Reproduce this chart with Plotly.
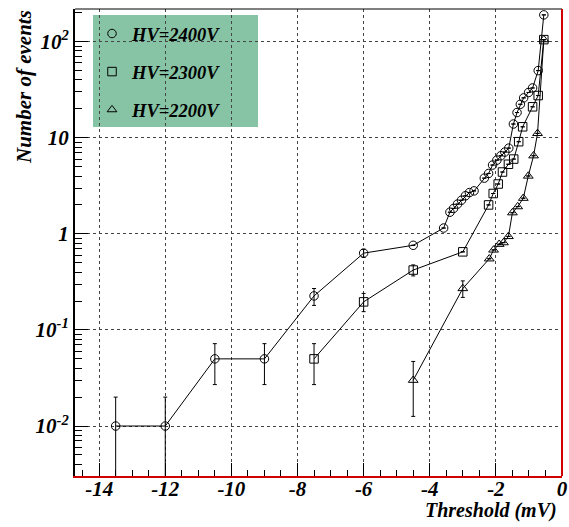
import plotly.graph_objects as go

# ---------------- data ----------------
hv2400_x = [-13.5, -12.0, -10.5, -9.0, -7.5, -6.0, -4.5, -3.58, -3.39, -3.28, -3.16, -3.04, -2.92, -2.80, -2.66,
            -2.35, -2.22, -2.10, -1.97, -1.85, -1.73, -1.61, -1.47, -1.36, -1.26, -1.16, -1.01, -0.89, -0.72, -0.55]
hv2400_y = [0.010, 0.010, 0.050, 0.050, 0.226, 0.63, 0.76, 1.15, 1.68, 1.84, 2.04, 2.24, 2.49, 2.69, 2.80,
            3.8, 4.25, 5.2, 5.85, 6.5, 7.1, 7.8, 13.9, 18.3, 22.3, 26.0, 29.6, 33.0, 50.0, 190.0]
hv2400_eup = [0.010, 0.010, 0.022, 0.022, 0.044, 0.06] + [None] * 24
hv2400_edn = [0.00999, 0.00999, 0.023, 0.023, 0.046, 0.06] + [None] * 24

hv2300_x = [-7.5, -6.0, -4.5, -3.0, -2.22, -2.08, -1.93, -1.80, -1.62, -1.46, -1.31, -1.19, -0.89, -0.72, -0.55]
hv2300_y = [0.050, 0.196, 0.42, 0.65, 2.0, 2.63, 3.3, 4.4, 5.3, 6.0, 9.1, 13.0, 21.0, 27.5, 105.0]
hv2300_eup = [0.022, 0.044, 0.055] + [None] * 12
hv2300_edn = [0.023, 0.041, 0.055] + [None] * 12

hv2200_x = [-4.5, -3.0, -2.2, -2.07, -1.9, -1.77, -1.62, -1.5, -1.34, -1.17, -1.02, -0.86, -0.74, -0.55]
hv2200_y = [0.030, 0.27, 0.55, 0.68, 0.78, 0.81, 0.94, 1.66, 1.92, 2.35, 4.0, 6.5, 11.1, 105.0]
hv2200_eup = [0.017, 0.054] + [None] * 12
hv2200_edn = [0.0174, 0.052] + [None] * 12

series_names = ["HV=2400V", "HV=2300V", "HV=2200V"]
series_symbols = ["circle-open", "square-open", "triangle-up-open"]

x_tick_vals = [-14, -12, -10, -8, -6, -4, -2, 0]
x_tick_text = ["-14", "-12", "-10", "-8", "-6", "-4", "-2", "0"]
y_tick_vals = [0.01, 0.1, 1, 10, 100]
y_tick_text = ["10<sup>-2</sup>", "10<sup>-1</sup>", "1", "10", "10<sup>2</sup>"]

FONT = "Liberation Serif"
fnt = lambda s: dict(family=FONT, size=s, color="black", weight="bold", style="italic")

fig = go.Figure()
data = [
    (hv2400_x, hv2400_y, hv2400_eup, hv2400_edn),
    (hv2300_x, hv2300_y, hv2300_eup, hv2300_edn),
    (hv2200_x, hv2200_y, hv2200_eup, hv2200_edn),
]
for (xs, ys, eu, ed), name, sym in zip(data, series_names, series_symbols):
    fig.add_trace(go.Scatter(
        x=xs, y=ys, mode="lines+markers", showlegend=False, name=name,
        line=dict(color="black", width=1),
        marker=dict(symbol=sym, size=8.5, color="black", line=dict(width=1, color="black")),
        error_y=dict(type="data", array=eu, arrayminus=ed, symmetric=False,
                     color="black", thickness=1, width=2),
    ))
# legend entries (markers only)
for i, (name, sym) in enumerate(zip(series_names, series_symbols)):
    fig.add_trace(go.Scatter(
        x=[None], y=[None], mode="markers", name=name, legendgroup=f"g{i}",
        marker=dict(symbol=sym, size=8.5, color="black", line=dict(width=1, color="black")),
    ))

L, R, T, B = 75, 7, 9, 51
W, H = 569, 527
pw, ph = W - L - R, H - T - B
px = lambda x: (x - L) / pw
py = lambda y: 1 - (y - T) / ph

minor_y = [m * 10 ** e for e in range(-3, 3) for m in range(2, 10)]

fig.update_layout(
    width=W, height=H,
    margin=dict(l=L, r=R, t=T, b=B, pad=0, autoexpand=False),
    paper_bgcolor="white", plot_bgcolor="white",
    font=fnt(18),
    legend=dict(x=px(92), y=py(15), xanchor="left", yanchor="top",
                bgcolor="rgba(0,0,0,0)", borderwidth=0, font=fnt(18.5),
                tracegroupgap=11, itemsizing="trace"),
    xaxis=dict(range=[-14.73, 0], tickvals=x_tick_vals, ticktext=x_tick_text,
               ticks="inside", ticklen=13, tickwidth=1, tickcolor="black",
               minor=dict(dtick=0.5, ticks="inside", ticklen=6, tickcolor="black", showgrid=False),
               showgrid=True, gridcolor="#444", griddash="dot", gridwidth=1,
               showline=True, linecolor="#d00000", linewidth=2, automargin=False,
               ticklabelstandoff=-7,
               tickfont=fnt(21), zeroline=False),
    yaxis=dict(type="log", range=[-2.52, 2.34], tickvals=y_tick_vals, ticktext=y_tick_text,
               ticks="inside", ticklen=13, tickwidth=1, tickcolor="black",
               minor=dict(tickvals=minor_y, ticks="inside", ticklen=7, tickcolor="black", showgrid=False),
               showgrid=True, gridcolor="#444", griddash="dot", gridwidth=1,
               showline=True, linecolor="black", linewidth=2, automargin=False,
               tickfont=fnt(21), zeroline=False),
    shapes=[
        dict(type="rect", xref="paper", yref="paper", x0=px(93), x1=px(258), y0=py(127), y1=py(15),
             fillcolor="#87c4a5", line=dict(width=0), layer="below"),
        dict(type="line", xref="paper", yref="paper", x0=0, x1=1, y0=1, y1=1,
             line=dict(color="black", width=1)),
        dict(type="line", xref="paper", yref="paper", x0=1, x1=1, y0=0, y1=1,
             line=dict(color="#d00000", width=2)),
    ],
    annotations=[
        dict(text="Number of events", xref="paper", yref="paper", x=px(24), y=py(87),
             textangle=-90, showarrow=False, font=fnt(21), xanchor="center", yanchor="middle"),
        dict(text="Threshold (mV)", xref="paper", yref="paper", x=px(559), y=py(511),
             showarrow=False, font=fnt(20), xanchor="right", yanchor="middle"),
    ],
)

fig.write_html("out.html",
               config={"displayModeBar": False},
               post_script="document.body.style.margin='0px';document.body.style.padding='0px';")
